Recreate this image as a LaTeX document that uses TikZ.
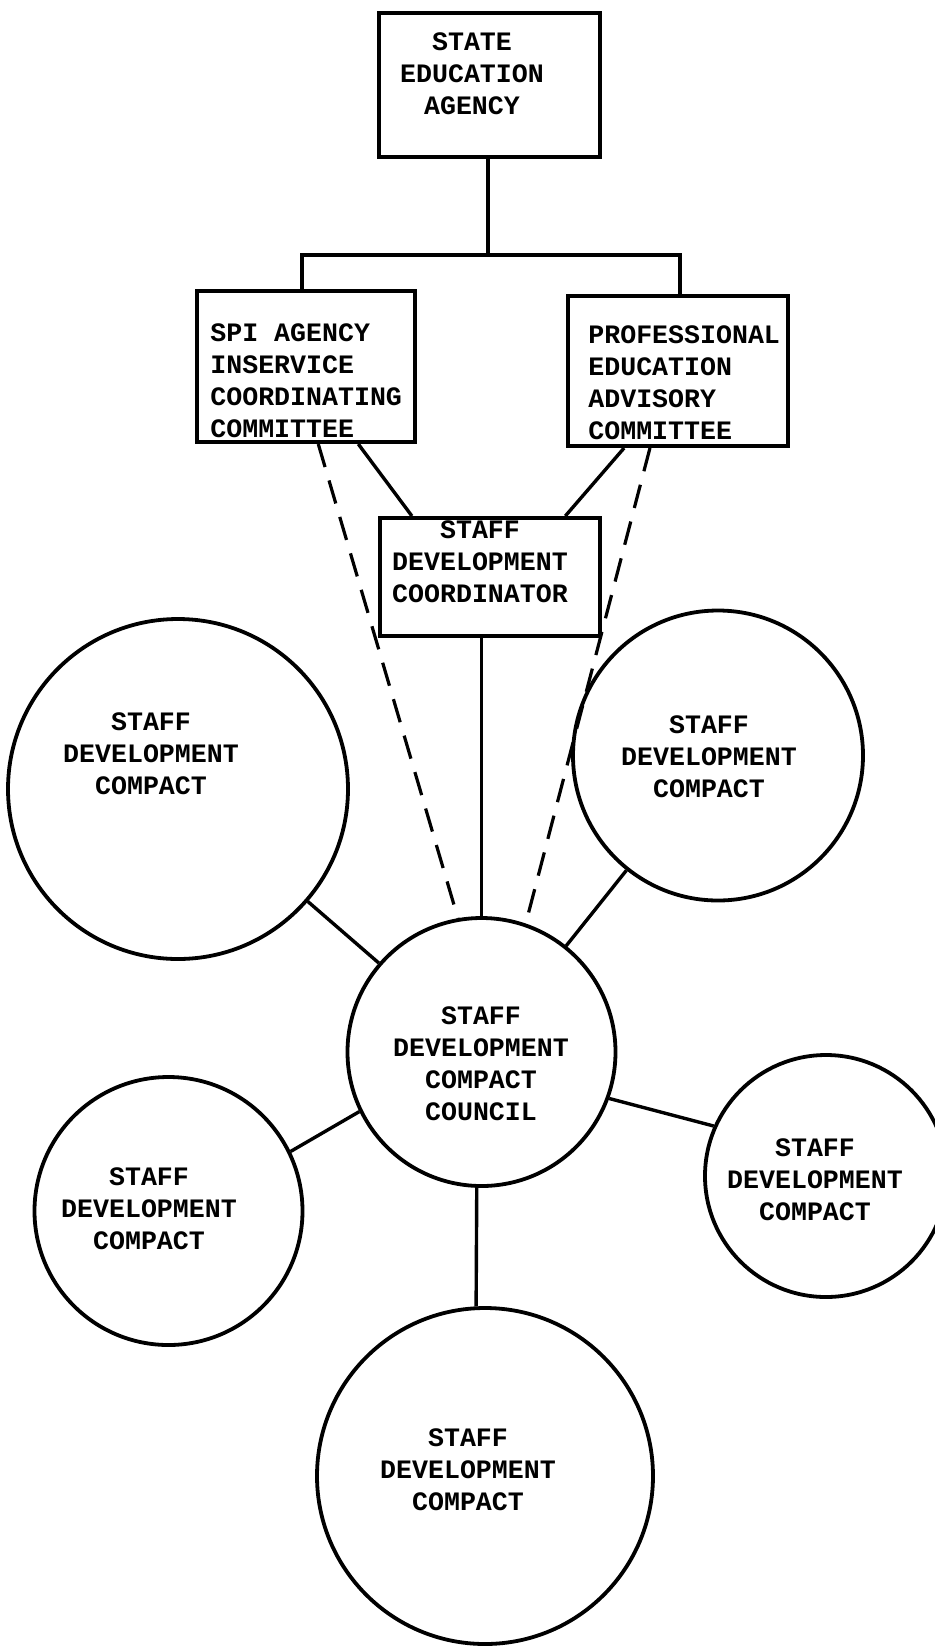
\documentclass[tikz,border=0pt]{standalone}
\usepackage{fontspec}
\newfontfamily\tw{Liberation Mono}
\begin{document}
\begin{tikzpicture}[x=0.5pt,y=-0.5pt,
  box/.style={draw,line width=2pt,rectangle,inner sep=0pt},
  ring/.style={draw,line width=1.9pt,circle,inner sep=0pt},
  lbl/.style={font=\tw\bfseries\fontsize{13.3}{16}\selectfont,inner sep=0pt,align=center},
  lbll/.style={lbl,align=left,anchor=west},
  link/.style={line width=1.7pt},
  dlink/.style={line width=1.6pt,dash pattern=on 12pt off 7pt}]
\useasboundingbox (0,0) rectangle (934,1651);
% boxes
\node[box,minimum width=110.5pt,minimum height=72pt] (sea) at (489.5,85) {};
\node[box,minimum width=109pt,minimum height=75.5pt] (spi) at (306,366.5) {};
\node[box,minimum width=110pt,minimum height=75pt] (pro) at (678,371) {};
\node[box,minimum width=110pt,minimum height=59pt] (sdc) at (490,577) {};
% circles
\node[ring,minimum size=170pt] (tl) at (178,789) {};
\node[ring,minimum size=145pt] (tr) at (718,755.5) {};
\node[ring,minimum size=134pt] (cc) at (481.5,1052) {};
\node[ring,minimum size=134pt] (lc) at (168.5,1211) {};
\node[ring,minimum size=121pt] (rc) at (826,1176) {};
\node[ring,minimum size=168pt] (bc) at (485,1476) {};
% labels
\node[lbl] (tsea) at (472,74) {STATE\\EDUCATION\\AGENCY};
\node[lbll] (tspi) at (210,381) {SPI AGENCY\\INSERVICE\\COORDINATING\\COMMITTEE};
\node[lbll] (tpro) at (588,383) {PROFESSIONAL\\EDUCATION\\ADVISORY\\COMMITTEE};
\node[lbl] (tsdc) at (480,562) {STAFF\\DEVELOPMENT\\COORDINATOR};
\node[lbl] (ttl) at (151,754) {STAFF\\DEVELOPMENT\\COMPACT};
\node[lbl] (ttr) at (709,757) {STAFF\\DEVELOPMENT\\COMPACT};
\node[lbl] (tcc) at (481,1064) {STAFF\\DEVELOPMENT\\COMPACT\\COUNCIL};
\node[lbl] (tlc) at (149,1209) {STAFF\\DEVELOPMENT\\COMPACT};
\node[lbl] (trc) at (815,1180) {STAFF\\DEVELOPMENT\\COMPACT};
\node[lbl] (tbc) at (468,1470) {STAFF\\DEVELOPMENT\\COMPACT};
% tree connectors
\coordinate (barL) at (302,255);
\coordinate (barR) at (680,255);
\coordinate (barM) at (488,255);
\draw[link] (sea.south -| barM) -- (barM);
\draw[link] (spi.north -| barL) -- (barL) -- (barR) -- (pro.north -| barR);
\draw[link] (spi.-56) -- (sdc.142);
\draw[link] (pro.-125) -- (sdc.39);
\draw[link] (sdc.south -| cc.north) -- (cc.north);
\draw[dlink] (spi.-81) -- (cc.100.6);
\draw[dlink] (pro.-110.6) -- (cc.71.8);
% circle connectors
\draw[link] (tl) -- (cc);
\draw[link] (tr) -- (cc);
\draw[link] (cc.206) -- (lc.26);
\draw[link] (cc.-20) -- (rc.156);
\draw[link] (cc.-92) -- (bc.93);
\end{tikzpicture}
\end{document}
